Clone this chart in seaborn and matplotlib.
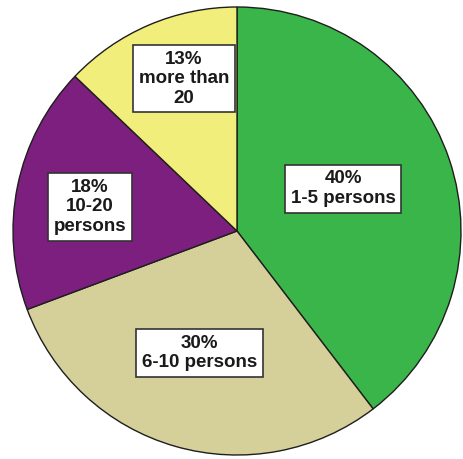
import numpy as np
import matplotlib
matplotlib.use("Agg")
import matplotlib.pyplot as plt
import seaborn as sns

# Team size distribution
categories = ["1-5 persons", "6-10 persons", "10-20\npersons", "more than\n20"]
percent = [40, 30, 18, 13]
colors = ["#39b54a", "#d5cf9a", "#7c1f7e", "#f2ee7b"]

sns.set_theme(style="white")
plt.rcParams["font.family"] = ["Liberation Sans", "DejaVu Sans"]

W, H = 464, 459
fig = plt.figure(figsize=(W / 100, H / 100), dpi=100)
fig.patch.set_facecolor("white")

cx, cy, r = 237, 231, 224
ax = fig.add_axes([(cx - r) / W, (H - cy - r) / H, 2 * r / W, 2 * r / H])

wedges, _ = ax.pie(
    percent,
    colors=colors,
    startangle=90,
    counterclock=False,
    radius=1.0,
    wedgeprops=dict(edgecolor="#1e1e1e", linewidth=1.0),
)
ax.set_xlim(-1.0, 1.0)
ax.set_ylim(-1.0, 1.0)
ax.set_aspect("equal")
ax.axis("off")

# label placement: (radial fraction, angular nudge in degrees)
placement = [(0.51, 3.0), (0.57, -1.0), (0.665, 2.3), (0.72, -4.0)]

for w, pct, cat, (rad, nudge) in zip(wedges, percent, categories, placement):
    mid = np.deg2rad((w.theta1 + w.theta2) / 2 + nudge)
    ax.text(
        rad * np.cos(mid), rad * np.sin(mid),
        f"{pct}%\n{cat}",
        ha="center", va="center",
        fontsize=13.5, fontweight="bold", color="#1a1a1a",
        linespacing=1.2,
        bbox=dict(boxstyle="square,pad=0.3", facecolor="white",
                  edgecolor="#333333", linewidth=1.2),
    )

fig.savefig("out.png", dpi=100, facecolor="white")
